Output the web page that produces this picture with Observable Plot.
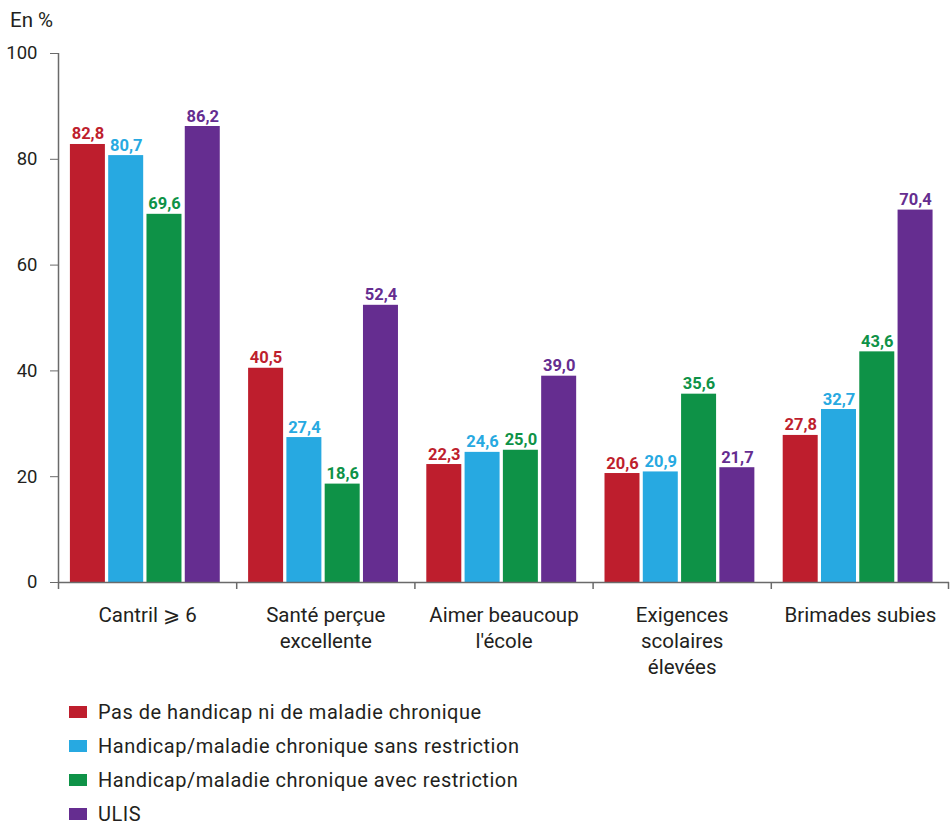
<!DOCTYPE html>
<html><head><meta charset="utf-8">
<script src="https://cdn.jsdelivr.net/npm/d3@7"></script>
<script src="https://cdn.jsdelivr.net/npm/@observablehq/plot@0.6"></script>
<style>
body{margin:0;background:#fff;font-family:Roboto,"DejaVu Sans",sans-serif;color:#231f20;}
#unit{height:38px;line-height:40px;font-size:20.5px;padding-left:10px;}
#legend{padding-top:5px;}
.item{display:flex;align-items:center;height:34px;font-size:20px;line-height:18px;letter-spacing:0.5px;}
.sw{width:18px;height:12px;margin-left:69px;margin-right:11px;flex:none;}
</style></head><body>
<div id="unit">En %</div>
<div id="chart"></div>
<div id="legend"></div>
<script>
const categories = ["Cantril ⩾ 6", "Santé perçue excellente", "Aimer beaucoup l'école", "Exigences scolaires élevées", "Brimades subies"];
const tickLabels = ["Cantril ⩾ 6", "Santé perçue\nexcellente", "Aimer beaucoup\nl'école", "Exigences\nscolaires\nélevées", "Brimades subies"];
const series = ["Pas de handicap ni de maladie chronique", "Handicap/maladie chronique sans restriction", "Handicap/maladie chronique avec restriction", "ULIS"];
const colors = ["#be1e2d", "#27a9e1", "#0e9247", "#652d90"];
const pasDeHandicap = [82.8, 40.5, 22.3, 20.6, 27.8];
const sansRestriction = [80.7, 27.4, 24.6, 20.9, 32.7];
const avecRestriction = [69.6, 18.6, 25.0, 35.6, 43.6];
const ulis = [86.2, 52.4, 39.0, 21.7, 70.4];
const yTicks = [0, 20, 40, 60, 80, 100];

const seriesValues = [pasDeHandicap, sansRestriction, avecRestriction, ulis];
const data = series.flatMap((s, i) => categories.map((c, j) => ({category: c, series: s, value: seriesValues[i][j]})));

const width = 950, marginLeft = 58, marginRight = 1;
const bw = (width - marginLeft - marginRight) / categories.length;
const sub = d3.scaleBand(series, [0, bw]).paddingInner(0.086).paddingOuter(0.37).align(0.42);
const axisColor = "#6a6a6a";
const fmt = v => v.toFixed(1).replace(".", ",");

const marks = [];
series.forEach((s, i) => {
  const d = data.filter(r => r.series === s);
  const left = sub(s), right = bw - sub(s) - sub.bandwidth();
  marks.push(Plot.barY(d, {x: "category", y: "value", fill: colors[i], insetLeft: left, insetRight: right}));
  marks.push(Plot.text(d, {x: "category", y: "value", text: r => fmt(r.value), fill: colors[i],
    dx: left + sub.bandwidth() / 2 - bw / 2, dy: -5, lineAnchor: "bottom", fontSize: 16.5, fontWeight: "bold"}));
});

const plot = Plot.plot({
  width, height: 652,
  marginLeft, marginRight, marginTop: 15, marginBottom: 108,
  style: {fontFamily: 'Roboto, "DejaVu Sans", sans-serif', fontSize: "18px", color: "#231f20", background: "#fff"},
  x: {domain: categories, padding: 0, round: false, label: null},
  y: {domain: [0, 100], label: null},
  marks: [
    ...marks,
    Plot.ruleY([0], {stroke: axisColor, strokeWidth: 1.5}),
    Plot.ruleX([categories[0]], {x: d => d, y1: 0, y2: 100, dx: -bw / 2, stroke: axisColor, strokeWidth: 1.5}),
    Plot.ruleX(categories, {x: d => d, y1: 0, y2: 0, insetBottom: -7, dx: -bw / 2, stroke: axisColor, strokeWidth: 1.5}),
    Plot.ruleX([categories[categories.length - 1]], {x: d => d, y1: 0, y2: 0, insetBottom: -7, dx: bw / 2 - 1, stroke: axisColor, strokeWidth: 1.5}),
    Plot.axisY({ticks: yTicks, tickSize: 8, tickPadding: 13, stroke: axisColor, fill: "#231f20", fontSize: 18.5, label: null}),
    Plot.axisX({tickSize: 0, tickPadding: 21, fontSize: 20.5, fill: "#231f20", lineHeight: 1.27, label: null,
      tickFormat: c => tickLabels[categories.indexOf(c)]})
  ]
});
document.getElementById("chart").appendChild(plot);

const legend = document.getElementById("legend");
series.forEach((s, i) => {
  const item = document.createElement("div");
  item.className = "item";
  const sw = document.createElement("span");
  sw.className = "sw";
  sw.style.background = colors[i];
  const t = document.createElement("span");
  t.textContent = s;
  item.appendChild(sw); item.appendChild(t);
  legend.appendChild(item);
});
</script>
</body></html>
